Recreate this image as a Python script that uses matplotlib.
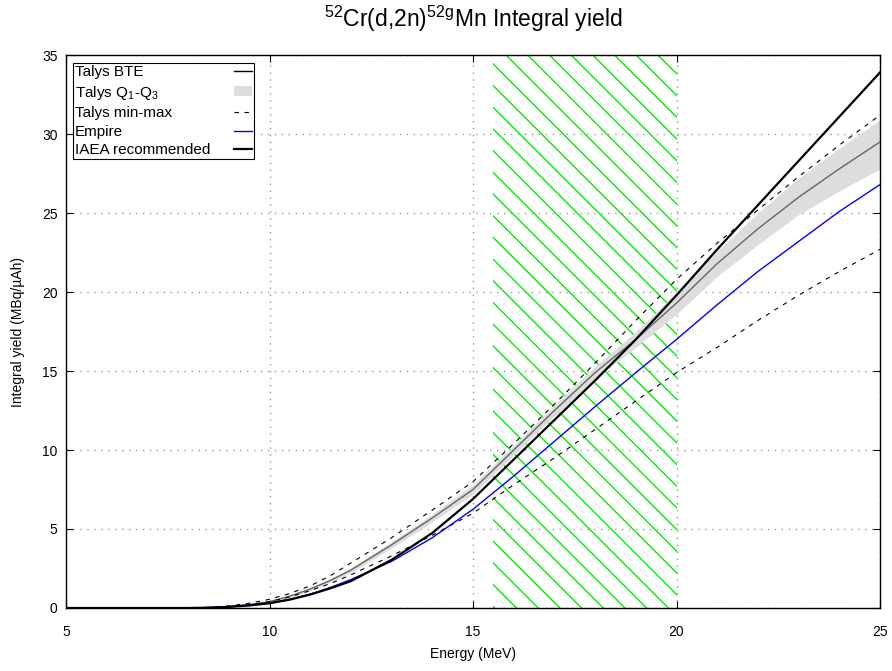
import numpy as np
import matplotlib.pyplot as plt
from matplotlib.lines import Line2D
from matplotlib.patches import Patch, Rectangle

plt.rcParams['font.family'] = ['Liberation Sans', 'DejaVu Sans']
plt.rcParams['mathtext.fontset'] = 'custom'
plt.rcParams['mathtext.rm'] = 'Liberation Sans'
plt.rcParams['mathtext.it'] = 'Liberation Sans:italic'

# data
energy = [5, 6, 7, 8, 8.5, 9, 9.5, 10, 10.5, 11, 11.5, 12, 13, 14, 15, 16, 17, 18, 19, 20, 21, 22, 23, 24, 25]
talys_bte = [0, 0, 0, 0, 0.03, 0.1, 0.22, 0.4, 0.75, 1.2, 1.75, 2.4, 4.0, 5.7, 7.5, 10.0, 12.5, 14.9, 17.0, 19.3, 21.8, 24.0, 26.0, 27.8, 29.5]
talys_q1 = [0, 0, 0, 0, 0.025, 0.08, 0.2, 0.36, 0.68, 1.1, 1.63, 2.25, 3.8, 5.45, 7.2, 9.7, 12.15, 14.5, 16.5, 18.6, 21.0, 23.0, 24.9, 26.4, 27.8]
talys_q3 = [0, 0, 0, 0, 0.035, 0.12, 0.25, 0.45, 0.82, 1.3, 1.87, 2.55, 4.2, 5.95, 7.8, 10.3, 12.85, 15.3, 17.5, 20.0, 22.6, 25.0, 27.2, 29.1, 30.9]
talys_min = [0, 0, 0, 0, 0.02, 0.08, 0.2, 0.4, 0.7, 1.1, 1.55, 2.1, 3.3, 4.6, 6.0, 7.8, 9.5, 11.3, 13.1, 14.9, 16.5, 18.2, 19.8, 21.3, 22.7]
talys_max = [0, 0, 0, 0.005, 0.04, 0.13, 0.3, 0.55, 0.92, 1.4, 2.05, 2.85, 4.45, 6.2, 8.0, 10.4, 12.9, 15.5, 18.2, 20.8, 23.1, 25.2, 27.3, 29.3, 31.2]
empire = [0, 0, 0, 0, 0.02, 0.08, 0.18, 0.32, 0.55, 0.88, 1.3, 1.8, 2.95, 4.45, 6.25, 8.35, 10.55, 12.75, 14.9, 17.0, 19.2, 21.3, 23.2, 25.1, 26.8]
iaea = [0, 0, 0, 0, 0.02, 0.07, 0.16, 0.3, 0.53, 0.85, 1.25, 1.7, 3.05, 4.75, 6.9, 9.4, 11.9, 14.4, 17.0, 19.8, 22.7, 25.5, 28.3, 31.1, 33.9]

# recommended energy window
window = [15.5, 20.0]

labels = ['Talys BTE', 'Talys Q$_1$-Q$_3$', 'Talys min-max', 'Empire', 'IAEA recommended']

fig = plt.figure(figsize=(8.92, 6.71), dpi=100)
ax = fig.add_axes([0.074, 0.0939, 0.9126, 0.8241])
ax.set_xlim(5, 25)
ax.set_ylim(0, 35)

# green hatch of the window, 45 degree lines
box = ax.get_position()
sx = box.width * fig.get_figwidth() * fig.dpi / 20
sy = box.height * fig.get_figheight() * fig.dpi / 35
k = sx / sy
step = 21.7 / sx
clip = Rectangle((window[0], 0), window[1] - window[0], 35, transform=ax.transData)
c = 15.81 + 35 / k
while c - step > window[0]:
    c -= step
while c - 35 / k < window[1]:
    ln, = ax.plot([c - 35 / k, c], [35, 0], color='#00ee00', lw=1, zorder=1)
    ln.set_clip_path(clip)
    c += step

ax.fill_between(energy, talys_q1, talys_q3, color='#dddddd', lw=0, zorder=2)
ax.plot(energy, talys_bte, color='#666666', lw=1, zorder=3)
ax.plot(energy, talys_min, color='black', lw=0.8, dashes=(4, 5), zorder=4)
ax.plot(energy, talys_max, color='black', lw=0.8, dashes=(4, 5), zorder=4)
ax.plot(energy, empire, color='#0000ff', lw=1, zorder=4)
ax.plot(energy, iaea, color='black', lw=1.6, zorder=5)

ax.set_xticks(np.arange(5, 26, 5))
ax.set_yticks(np.arange(0, 36, 5))
ax.tick_params(direction='in', top=True, right=True, length=5, width=0.8,
               labelsize=10, color='black')
ax.tick_params(axis='x', pad=12)
ax.tick_params(axis='y', pad=6)
ax.grid(True, linestyle=(0, (1, 4)), color='#999999', lw=1)
for s in ax.spines.values():
    s.set_linewidth(1)

ax.set_xlabel('Energy (MeV)', fontsize=10, labelpad=6)
ax.set_ylabel('Integral yield (MBq/\u00b5Ah)', fontsize=10, labelpad=12)
ax.set_title('$^{52}$Cr(d,2n)$^{52\\mathrm{g}}$Mn Integral yield', fontsize=16.5, pad=20)

handles = [Line2D([], [], color='black', lw=1),
           Patch(facecolor='#dddddd', edgecolor='none'),
           Line2D([], [], color='black', lw=0.8, dashes=(4, 5)),
           Line2D([], [], color='#0000ff', lw=1),
           Line2D([], [], color='black', lw=1.6)]
leg = ax.legend(handles, labels, loc='upper left', bbox_to_anchor=(0.009, 0.985),
                borderaxespad=0, markerfirst=False, fancybox=False, edgecolor='black',
                framealpha=1, fontsize=11, labelspacing=0.3, handlelength=1.2,
                handletextpad=1.0, borderpad=0.12, handleheight=0.6)
leg.get_frame().set_linewidth(0.8)
# texts to the left, keys to the right, as in the reference
for col in leg._legend_handle_box.get_children():
    col.align = 'left'
    for row in col.get_children():
        row.mode = 'expand'
        row.width = 177

fig.savefig('out.png', dpi=100)
